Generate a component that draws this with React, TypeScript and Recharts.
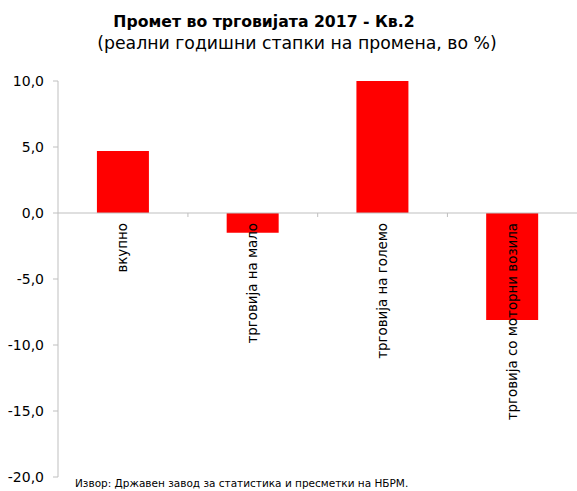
import { BarChart, Bar, XAxis, YAxis, ReferenceLine, LabelList } from 'recharts';

const categories = ['вкупно', 'трговија на мало', 'трговија на големо', 'трговија со моторни возила'];
const values = [4.7, -1.5, 10.0, -8.1];
const yTicks = [-20, -15, -10, -5, 0, 5, 10];

const data = categories.map((name, i) => ({ name, value: values[i] }));

const font = '"DejaVu Sans", Verdana, sans-serif';
const fmt = (v: number) => v.toFixed(1).replace('.', ',');

// category name written upward from the zero line, plus the small divider tick after each band
const CategoryLabel = (props: any) => {
  const { x, y, width, height, index } = props;
  const zeroY = y + height;
  const cx = x + width / 2;
  const band = width / 0.4;
  const bandEnd = cx + band / 2;
  return (
    <g>
      {index < categories.length - 1 && (
        <line x1={bandEnd} y1={zeroY} x2={bandEnd} y2={zeroY + 4} stroke="#bfbfbf" />
      )}
      <text
        x={cx}
        y={zeroY + 10}
        transform={`rotate(-90, ${cx}, ${zeroY + 10})`}
        textAnchor="end"
        dominantBaseline="central"
        fontFamily={font}
        fontSize={13.4}
        fill="#000"
      >
        {categories[index]}
      </text>
    </g>
  );
};

export default function App() {
  return (
    <div style={{ position: 'absolute', left: 0, top: 0, width: 577, height: 491, background: '#fff', fontFamily: font }}>
      <div style={{ position: 'absolute', left: 0, top: 12, width: 528, textAlign: 'center', fontWeight: 'bold', fontSize: 15.7, color: '#000' }}>
        Промет во трговијата 2017 - Кв.2
      </div>
      <div style={{ position: 'absolute', left: 0, top: 33, width: 594, textAlign: 'center', fontSize: 17.3, color: '#000' }}>
        (реални годишни стапки на промена, во %)
      </div>
      <BarChart
        width={577}
        height={491}
        data={data}
        barCategoryGap="30%"
        margin={{ top: 81, right: 0, left: 0, bottom: 14 }}
      >
        <XAxis dataKey="name" hide />
        <YAxis
          width={58}
          domain={[-20, 10]}
          ticks={yTicks}
          interval={0}
          tickFormatter={fmt}
          axisLine={{ stroke: '#bfbfbf' }}
          tickLine={{ stroke: '#bfbfbf' }}
          tickSize={5}
          tickMargin={9}
          tick={{ fill: '#000', fontSize: 14, fontFamily: font }}
        />
        <ReferenceLine y={0} stroke="#bfbfbf" />
        <Bar dataKey="value" fill="#ff0000" isAnimationActive={false}>
          <LabelList dataKey="value" content={<CategoryLabel />} />
        </Bar>
      </BarChart>
      <div style={{ position: 'absolute', left: 75, top: 477, fontSize: 10.5, color: '#000' }}>
        Извор: Државен завод за статистика и пресметки на НБРМ.
      </div>
    </div>
  );
}
